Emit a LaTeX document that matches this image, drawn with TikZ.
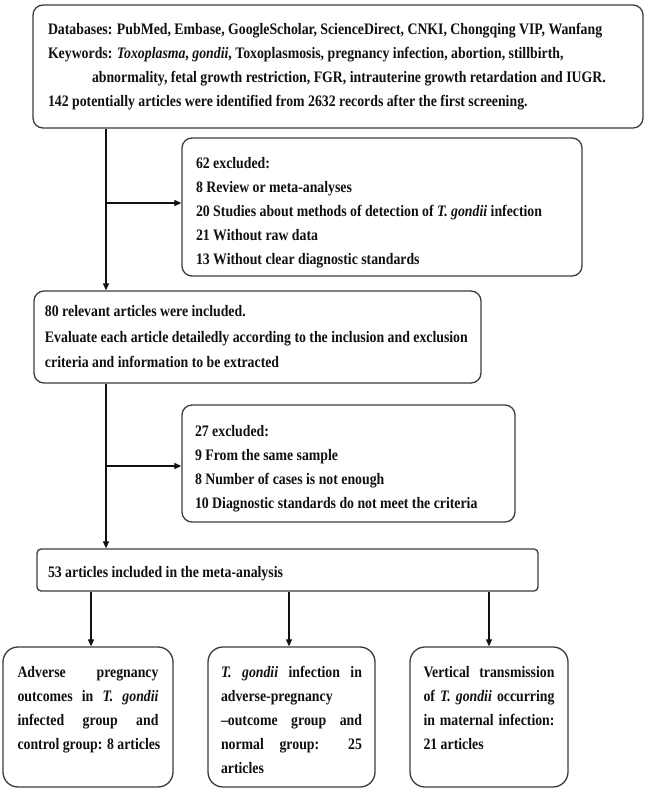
\documentclass[tikz,border=0pt]{standalone}
\usepackage{fontspec}
\setmainfont{Liberation Serif}[FakeStretch=0.8625]
\usetikzlibrary{arrows.meta,calc}
\definecolor{edgegray}{HTML}{3C3C3C}
\definecolor{ink}{HTML}{111111}
\newcommand{\boxtext}[4]{\parbox[c][#2][t]{#1}{\vspace*{#3}#4}}
\newcommand{\just}[1]{\makebox[\linewidth][s]{#1}}
\tikzset{
  flowbox/.style={draw=edgegray, line width=1.3pt, rounded corners=10pt, inner ysep=0pt,
    fill=white, text=ink, font=\fontsize{16}{24}\selectfont\bfseries},
  conn/.style={draw=ink, line width=1.1pt, -{Triangle[length=7pt,width=6pt]}}
}
\begin{document}
\begin{tikzpicture}[x=1pt,y=-1pt]
\useasboundingbox (0,0) rectangle (648,793);
\fill[white] (0,0) rectangle (648,793);

\node[flowbox, inner xsep=15pt] (b1) at (338,66.5) {\boxtext{580pt}{123pt}{18.5pt}{%
\mbox{Databases: PubMed, Embase, GoogleScholar, ScienceDirect, CNKI, Chongqing VIP, Wanfang}\\
\mbox{Keywords: \textit{Toxoplasma}, \textit{gondii}, Toxoplasmosis, pregnancy infection, abortion, stillbirth,}\\
\mbox{\hspace*{44pt}abnormality, fetal growth restriction, FGR, intrauterine growth retardation and IUGR.}\\
\mbox{142 potentially articles were identified from 2632 records after the first screening.}}};

\node[flowbox, inner xsep=14pt] (b2) at (382,207) {\boxtext{372pt}{138pt}{19.5pt}{%
62 excluded:\\
8 Review or meta-analyses\\
\mbox{20 Studies about methods of detection of \textit{T. gondii} infection}\\
21 Without raw data\\
13 Without clear diagnostic standards}};

\node[flowbox, inner xsep=11pt, font=\fontsize{16}{25.5}\selectfont\bfseries] (b3) at (257.5,337) {\boxtext{425pt}{92pt}{14.5pt}{%
80 relevant articles were included.\\
\mbox{Evaluate each article detailedly according to the inclusion and exclusion}\\
criteria and information to be extracted}};

\node[flowbox, inner xsep=13pt] (b4) at (348.5,463.5) {\boxtext{307pt}{117pt}{20.5pt}{%
27 excluded:\\
9 From the same sample\\
8 Number of cases is not enough\\
\mbox{10 Diagnostic standards do not meet the criteria}}};

\node[flowbox, inner xsep=11pt, rounded corners=4pt] (b5) at (287.5,570) {\boxtext{479pt}{42pt}{17.5pt}{%
53 articles included in the meta-analysis}};

\node[flowbox, inner xsep=14.5pt, rounded corners=15pt] (b6) at (88,717) {\boxtext{141pt}{140pt}{19.5pt}{%
\just{Adverse pregnancy}\\
\just{outcomes in \textit{T. gondii}}\\
\just{infected group and}\\
\mbox{control group: 8 articles}}};

\node[flowbox, inner xsep=13pt, rounded corners=15pt] (b7) at (291.5,717) {\boxtext{141pt}{140pt}{19.5pt}{%
\just{\textit{T. gondii} infection in}\\
adverse-pregnancy\\
\just{–outcome group and}\\
\just{normal group: 25}\\
articles}};

\node[flowbox, inner xsep=13.5pt, rounded corners=15pt] (b8) at (489,717) {\boxtext{131pt}{140pt}{19.5pt}{%
\just{Vertical transmission}\\
\just{of \textit{T. gondii} occurring}\\
\just{in maternal infection:}\\
21 articles}};

\coordinate (j1) at (106,203);
\coordinate (j2) at (106,466);
\coordinate (k1) at (91,600);
\coordinate (k2) at (289,600);
\coordinate (k3) at (489,600);

\draw[conn] (b1.south -| j1) -- (b3.north -| j1);
\draw[conn] (j1) -- (j1 -| b2.west);
\draw[conn] (b3.south -| j2) -- (b5.north -| j2);
\draw[conn] (j2) -- (j2 -| b4.west);
\draw[conn] (b5.south -| k1) -- (b6.north -| k1);
\draw[conn] (b5.south -| k2) -- (b7.north -| k2);
\draw[conn] (b5.south -| k3) -- (b8.north -| k3);
\end{tikzpicture}
\end{document}
